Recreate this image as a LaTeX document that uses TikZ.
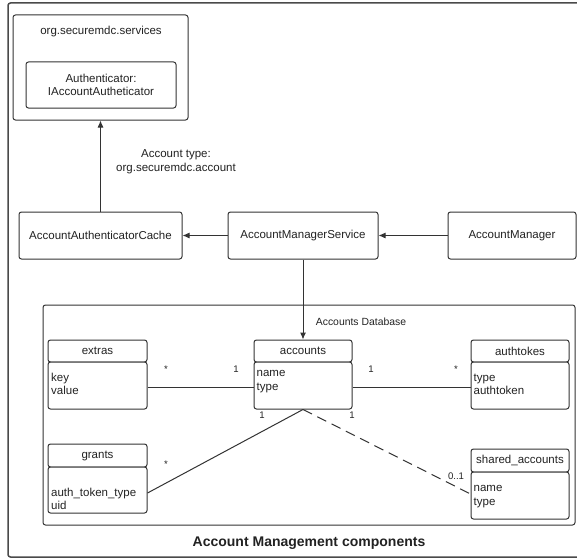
\documentclass[tikz,border=0pt]{standalone}
\usepackage{fontspec}
\setmainfont{Liberation Sans}
\usetikzlibrary{arrows.meta}
\definecolor{ink}{HTML}{333333}
\definecolor{framec}{HTML}{4A4A4A}
\definecolor{txt}{HTML}{222222}
\begin{document}
\begin{tikzpicture}[x=1pt,y=-1pt,
  box/.style={draw=ink, line width=1pt, rounded corners=2.5pt, inner sep=0pt, fill=white,
              text=txt, font=\fontsize{11.5}{13.5}\selectfont, align=center},
  frame/.style={draw=framec, line width=1.5pt, rounded corners=2.5pt, inner sep=0pt},
  field/.style={anchor=base west, inner sep=0pt, text=txt, font=\fontsize{11.5}{13.5}\selectfont},
  mult/.style={anchor=base, inner sep=0pt, text=txt, font=\fontsize{9.6}{11}\selectfont},
  note/.style={inner sep=0pt, text=txt, font=\fontsize{11.5}{13.5}\selectfont, align=center},
  link/.style={draw=ink, line width=1pt},
  arr/.style={link, -{Latex[length=7pt,width=6pt]}},
]
\useasboundingbox (0,0) rectangle (577,559);
\fill[white] (0,0) rectangle (577,559);

% outer frame (runs past the right edge of the page)
\node[frame, minimum width=602pt, minimum height=554pt] (outer) at (309,280) {};
\node[anchor=base, inner sep=0pt, text=txt, font=\fontsize{14}{16}\selectfont\bfseries]
  (title) at (309,546) {Account Management components};

% services package
\node[box, minimum width=175pt, minimum height=105pt] (services) at (100.5,67.5) {};
\node[note] (servicesT) at (101,32) {org.securemdc.services};
\node[box, minimum width=150pt, minimum height=46pt] (auth) at (101,85)
  {Authenticator:\\IAccountAutheticator};

% service row
\node[box, minimum width=163pt, minimum height=47pt] (aac) at (100.5,235.5) {AccountAuthenticatorCache};
\node[box, minimum width=150pt, minimum height=47pt] (ams) at (303,235.5) {AccountManagerService};
\node[box, minimum width=128pt, minimum height=47pt] (am) at (512,235.5) {AccountManager};

\node[note] (acctype) at (176,161.5) {Account type:\\org.securemdc.account};

% database
\node[box, minimum width=532pt, minimum height=220pt] (db) at (309,415) {};
\node[note, font=\fontsize{10.4}{12}\selectfont] (dbT) at (361,322) {Accounts Database};

% tables: header + body
\node[box, minimum width=99pt, minimum height=22pt] (extrasH) at (97.5,351) {extras};
\node[box, minimum width=99pt, minimum height=47pt] (extrasB) at (97.5,385.5) {};
\node[field] (extras1) at (51,381) {key};
\node[field] (extras2) at (51,394) {value};

\node[box, minimum width=98pt, minimum height=22pt] (accH) at (303,351) {accounts};
\node[box, minimum width=98pt, minimum height=47pt] (accB) at (303,385.5) {};
\node[field] (acc1) at (256.5,376) {name};
\node[field] (acc2) at (256.5,390) {type};

\node[box, minimum width=98pt, minimum height=22pt] (tokH) at (520,351) {authtokes};
\node[box, minimum width=98pt, minimum height=47pt] (tokB) at (520,385.5) {};
\node[field] (tok1) at (473.5,381) {type};
\node[field] (tok2) at (473.5,394) {authtoken};

\node[box, minimum width=99pt, minimum height=23pt] (grH) at (97.5,455.5) {grants};
\node[box, minimum width=99pt, minimum height=46pt] (grB) at (97.5,490) {};
\node[field] (gr1) at (51,496) {auth\_token\_type};
\node[field] (gr2) at (51,509) {uid};

\node[box, minimum width=98pt, minimum height=23pt] (shH) at (520,460.5) {shared\_accounts};
\node[box, minimum width=98pt, minimum height=47pt] (shB) at (520,495.5) {};
\node[field] (sh1) at (473.5,491) {name};
\node[field] (sh2) at (473.5,505) {type};

% arrows between components
\draw[arr] (aac.north) -- (services.south);
\draw[arr] (ams.west) -- (aac.east);
\draw[arr] (am.west) -- (ams.east);
\draw[arr] (ams.south) -- (accH.north);

% relations between tables
\draw[link] ([yshift=-1.5pt]extrasB.east) -- ([yshift=-1.5pt]accB.west);
\draw[link] ([yshift=-1.5pt]accB.east) -- ([yshift=-1.5pt]tokB.west);
\draw[link] (accB.south) -- ([yshift=-3pt]grB.east);
\draw[link, dash pattern=on 10pt off 6pt] (accB.south) -- ([yshift=1.5pt]shB.west);

% multiplicities
\node[mult] (m1) at (166,372.5) {*};
\node[mult] (m2) at (236,372.5) {1};
\node[mult] (m3) at (371,372.5) {1};
\node[mult] (m4) at (456,372.5) {*};
\node[mult] (m5) at (262,418.5) {1};
\node[mult] (m6) at (352,418.5) {1};
\node[mult] (m7) at (166,467.5) {*};
\node[mult] (m8) at (456,479.5) {0..1};
\end{tikzpicture}
\end{document}
